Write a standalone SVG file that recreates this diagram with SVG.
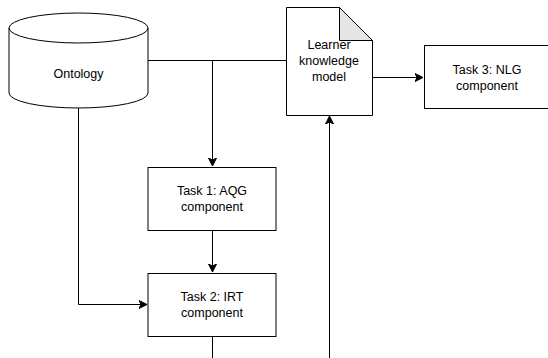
<svg xmlns="http://www.w3.org/2000/svg" width="548" height="358" viewBox="0 0 548 358">
<style>
.s{fill:#fff;stroke:#000;stroke-width:1}
.e{fill:none;stroke:#000;stroke-width:1}
text{font-family:"Liberation Sans",Arial,Helvetica,sans-serif;font-size:12.5px;fill:#000;text-anchor:middle}
</style>
<defs>
<marker id="a" markerWidth="10" markerHeight="10" refX="8" refY="5" orient="auto" markerUnits="userSpaceOnUse">
<path d="M0,1 L8,5 L0,9 L2,5 Z" fill="#000" stroke="#000" stroke-width="1"/>
</marker>
</defs>
<rect width="548" height="358" fill="#fff"/>
<g id="connectors">
<path class="e" d="M148,60.5 H286"/>
<path class="e" d="M212.5,60.5 V166" marker-end="url(#a)"/>
<path class="e" d="M78.5,108 V304.5 H147" marker-end="url(#a)"/>
<path class="e" d="M212.5,231 V272" marker-end="url(#a)"/>
<path class="e" d="M372,77.5 H423" marker-end="url(#a)"/>
<path class="e" d="M329.5,358 V116" marker-end="url(#a)"/>
<path class="e" d="M212.5,337 V358"/>
</g>
<g id="ontology">
<path class="s" d="M9,28 A69.5,15 0 0 1 148,28 V93 A69.5,15 0 0 1 9,93 Z"/>
<path class="e" d="M9,28 A69.5,15 0 0 0 148,28"/>
<text x="78.5" y="78">Ontology</text>
</g>
<g id="learner">
<path class="s" d="M286.5,7.5 H339.5 L372.5,40.5 V115.5 H286.5 Z"/>
<path d="M339.5,7.5 V40.5 H372.5 Z" fill="#e6e6e6" stroke="#000" stroke-width="1"/>
<text x="329" y="49">Learner</text>
<text x="329" y="65">knowledge</text>
<text x="329" y="81">model</text>
</g>
<g id="task3">
<rect class="s" x="424.5" y="45.5" width="126" height="63"/>
<text x="487" y="74">Task 3: NLG</text>
<text x="487" y="90">component</text>
</g>
<g id="task1">
<rect class="s" x="148" y="167.5" width="128" height="63"/>
<text x="212" y="195">Task 1: AQG</text>
<text x="212" y="211">component</text>
</g>
<g id="task2">
<rect class="s" x="148" y="273.5" width="128" height="63"/>
<text x="212" y="301">Task 2: IRT</text>
<text x="212" y="317">component</text>
</g>
</svg>
